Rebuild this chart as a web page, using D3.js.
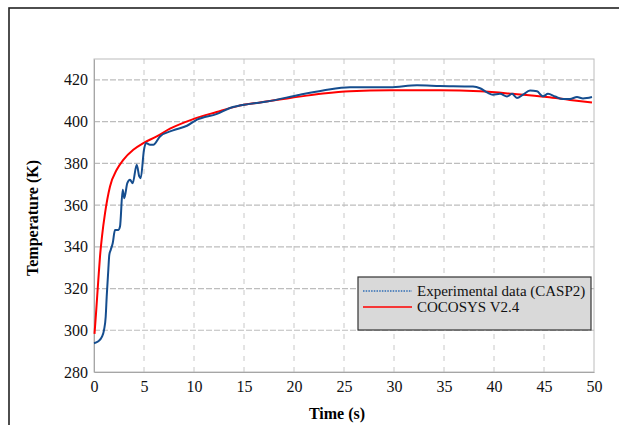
<!DOCTYPE html>
<html lang="en">

<head>
  <meta charset="UTF-8">
  <title>Temperature CASP2 vs COCOSYS</title>
  <script src="https://cdn.jsdelivr.net/npm/d3@7/dist/d3.min.js"></script>
  <style>
    body { margin: 0; background: #fff; }
    svg text { font-family: "Liberation Serif", "DejaVu Serif", serif !important; }
  </style>
</head>

<body>
  <svg></svg>

  <script>
    const width = 619;
    const height = 425;

    // x axis ticks and y axis ticks
    const xTicks = [0, 5, 10, 15, 20, 25, 30, 35, 40, 45, 50];
    const yTicks = [280, 300, 320, 340, 360, 380, 400, 420];

    // Experimental data (CASP2)
    const expTime = [0, 0.4, 0.8, 1.0, 1.17, 1.27, 1.43, 1.53, 1.67, 1.87, 2.1, 2.43, 2.6, 2.87, 3.03, 3.33, 3.6, 3.87, 4.27, 4.53, 4.67, 5.0, 5.2, 5.6, 5.93, 6.6, 7.9, 9.3, 10.3, 12.3, 13.6, 15.6, 17.3, 20.6, 22.9, 25.6, 29.6, 32.3, 34.6, 37.9, 38.6, 39.3, 39.9, 40.6, 41.3, 41.8, 42.3, 42.9, 43.6, 44.3, 44.9, 45.4, 46.1, 46.9, 47.6, 48.3, 48.9, 49.3, 49.8];
    const expTemp = [293.8, 294.6, 296.9, 300.1, 306.5, 316.1, 328.9, 336.1, 338.5, 341.7, 348.0, 348.1, 349.7, 367.3, 363.3, 370.5, 372.1, 370.5, 379.3, 373.7, 372.9, 386.5, 389.7, 388.9, 388.9, 392.9, 395.8, 398.0, 400.9, 403.7, 406.5, 408.5, 409.6, 412.9, 414.9, 416.5, 416.5, 417.4, 417.1, 416.8, 416.0, 414.0, 412.9, 413.3, 412.0, 413.3, 411.3, 412.9, 414.9, 414.5, 412.1, 413.3, 412.0, 410.8, 410.8, 411.8, 411.1, 411.3, 411.8];

    // COCOSYS V2.4
    const simTime = [0.05, 0.2, 0.43, 0.6, 0.8, 1.1, 1.6, 2.27, 2.93, 3.93, 4.93, 6.27, 7.6, 9.93, 12.27, 14.27, 16.6, 19.6, 22.9, 25.6, 29.6, 34.6, 38.6, 41.9, 45.3, 47.6, 49.8];
    const simTemp = [298.3, 308, 324, 335.3, 345, 356, 368.9, 376.9, 381.7, 386.5, 389.7, 392.9, 396.6, 401.2, 404.6, 407.3, 409.2, 411.3, 413.5, 414.6, 415.0, 415.0, 414.5, 413.3, 411.8, 410.4, 409.2];

    const legendLabels = ["Experimental data (CASP2)", "COCOSYS V2.4"];

    const margin = { left: 94, right: 25, top: 59, bottom: 53 };
    const plotW = width - margin.left - margin.right;
    const plotH = height - margin.top - margin.bottom;
    const serif = '"Liberation Serif", "DejaVu Serif", serif';

    const svg = d3.select("svg").attr("width", width).attr("height", height);

    // outer frame (runs off the picture on the right and bottom)
    svg.append("rect")
      .attr("x", 9).attr("y", 8)
      .attr("width", 700).attr("height", 500)
      .attr("fill", "none")
      .attr("stroke", "#222")
      .attr("stroke-width", 1.6);

    const x = d3.scaleLinear().domain([0, 50]).range([0, plotW]);
    const y = d3.scaleLinear().domain([280, 430]).range([plotH, 0]);

    const g = svg.append("g").attr("transform", `translate(${margin.left},${margin.top})`);

    // grid lines
    g.append("g")
      .selectAll("line")
      .data(xTicks.slice(1, -1))
      .join("line")
      .attr("x1", d => x(d)).attr("x2", d => x(d))
      .attr("y1", 0).attr("y2", plotH)
      .attr("stroke", "#c8c8c8")
      .attr("stroke-dasharray", "5,6");

    g.append("g")
      .selectAll("line")
      .data(yTicks.slice(1))
      .join("line")
      .attr("x1", 0).attr("x2", plotW)
      .attr("y1", d => y(d)).attr("y2", d => y(d))
      .attr("stroke", "#bdbdbd")
      .attr("stroke-width", 1.2)
      .attr("stroke-dasharray", "6,2");

    // plot frame
    g.append("rect")
      .attr("width", plotW).attr("height", plotH)
      .attr("fill", "none")
      .attr("stroke", "#bcbcbc");

    // axes
    const xAxis = g.append("g")
      .attr("transform", `translate(0,${plotH})`)
      .call(d3.axisBottom(x).tickValues(xTicks).tickSize(0).tickPadding(9));
    const yAxis = g.append("g")
      .call(d3.axisLeft(y).tickValues(yTicks).tickSize(0).tickPadding(6));
    [xAxis, yAxis].forEach(a => {
      a.attr("font-family", serif).attr("font-size", 16);
      a.select(".domain").attr("stroke", "#a6a6a6");
      a.selectAll("text")
        .style("font-family", serif)
        .style("font-size", "16px")
        .attr("fill", "#111");
    });

    // lines
    const line = d3.line().curve(d3.curveMonotoneX);
    const expPts = expTime.map((t, i) => [x(t), y(expTemp[i])]);
    const simPts = simTime.map((t, i) => [x(t), y(simTemp[i])]);

    g.append("path")
      .attr("d", line(simPts))
      .attr("fill", "none")
      .attr("stroke", "#ff0000")
      .attr("stroke-width", 2);

    g.append("path")
      .attr("d", line(expPts))
      .attr("fill", "none")
      .attr("stroke", "#154d8e")
      .attr("stroke-width", 2);

    // axis titles
    svg.append("text")
      .attr("x", 337).attr("y", 419)
      .attr("text-anchor", "middle")
      .attr("font-weight", "bold")
      .attr("font-size", 16)
      .text("Time (s)");

    svg.append("text")
      .attr("transform", "translate(38,218) rotate(-90)")
      .attr("text-anchor", "middle")
      .attr("font-weight", "bold")
      .attr("font-size", 16)
      .text("Temperature (K)");

    // legend
    const lg = svg.append("g").attr("transform", "translate(358,277)");
    lg.append("rect")
      .attr("width", 233).attr("height", 53)
      .attr("fill", "#d9d9d9")
      .attr("stroke", "#333")
      .attr("stroke-width", 1.2);

    const legendStyles = [
      { color: "#2f6db5", dash: "1.5,1.2", w: 1.5 },
      { color: "#ff0000", dash: null, w: 1.5 }
    ];
    legendLabels.forEach((label, i) => {
      const yy = 14 + i * 16;
      lg.append("line")
        .attr("x1", 5).attr("x2", 54)
        .attr("y1", yy).attr("y2", yy)
        .attr("stroke", legendStyles[i].color)
        .attr("stroke-width", legendStyles[i].w)
        .attr("stroke-dasharray", legendStyles[i].dash);
      lg.append("text")
        .attr("x", 59).attr("y", yy + 5)
        .attr("font-size", 15)
        .attr("fill", "#111")
        .text(label);
    });
  </script>
</body>

</html>
